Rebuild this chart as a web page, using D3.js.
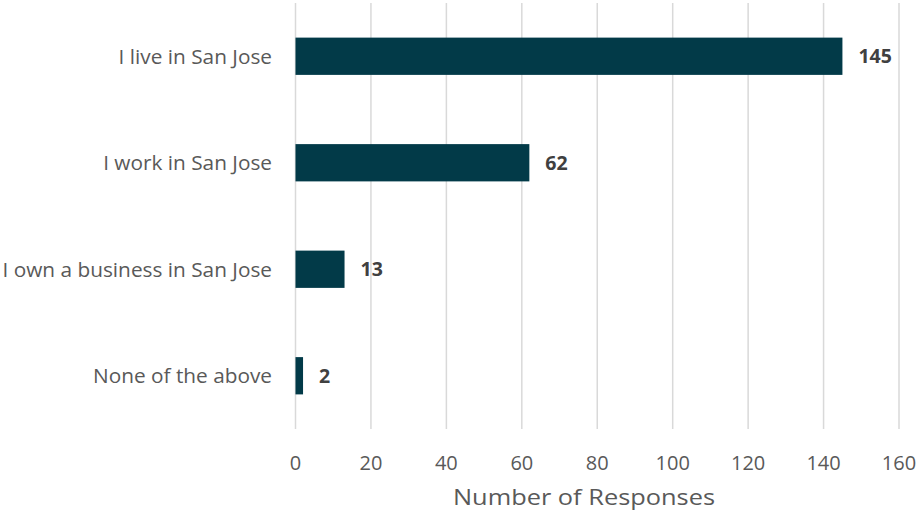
<!DOCTYPE html>
<html><head><meta charset="utf-8">
<script src="https://cdn.jsdelivr.net/npm/d3@7"></script>
<style>body{margin:0;background:#fff}svg{display:block}</style>
</head><body>
<svg id="c" width="916" height="512"></svg>
<script>
const categories = ["I live in San Jose","I work in San Jose","I own a business in San Jose","None of the above"];
const values = [145, 62, 13, 2];
const xTicks = [0,20,40,60,80,100,120,140,160];
const axisTitle = "Number of Responses";

const svg = d3.select("#c");
const font = "'Open Sans', 'Noto Sans', sans-serif";
const x = d3.scaleLinear().domain([0,160]).range([295.5, 899]);
const y = d3.scaleBand().domain(categories).range([3, 429]).paddingInner(0.65).paddingOuter(0.325);

svg.append("g").selectAll("line").data(xTicks).join("line")
  .attr("x1", d=>x(d)).attr("x2", d=>x(d)).attr("y1", 3).attr("y2", 429)
  .attr("stroke", "#d9d9d9").attr("stroke-width", 1.5);

svg.append("g").selectAll("rect").data(values).join("rect")
  .attr("x", x(0)).attr("y", (d,i)=>y(categories[i]))
  .attr("width", d=>x(d)-x(0)).attr("height", y.bandwidth())
  .attr("fill", "#023a48");

svg.append("g").selectAll("text").data(values).join("text")
  .attr("x", d=>x(d)+16).attr("y", (d,i)=>y(categories[i])+y.bandwidth()/2)
  .attr("dy", "0.35em").text(d=>d)
  .attr("font-family", font).attr("font-weight", "bold").attr("font-size", 19.5).attr("fill", "#404040");

svg.append("g").selectAll("text").data(categories).join("text")
  .attr("x", 272).attr("y", d=>y(d)+y.bandwidth()/2).attr("dy","0.35em")
  .attr("text-anchor","end").text(d=>d)
  .attr("font-family", font).attr("font-size", 20.8).attr("fill", "#595959");

svg.append("g").selectAll("text").data(xTicks).join("text")
  .attr("x", d=>x(d)).attr("y", 463).attr("dy","0.35em").attr("text-anchor","middle").text(d=>d)
  .attr("font-family", font).attr("font-size", 20).attr("fill", "#595959");

svg.append("text").attr("x", 584).attr("y", 497).attr("dy","0.35em").attr("text-anchor","middle")
  .text(axisTitle).attr("font-family", font).attr("font-size", 22).attr("fill", "#595959")
  .attr("textLength", 262).attr("lengthAdjust", "spacingAndGlyphs");
</script>
</body></html>
